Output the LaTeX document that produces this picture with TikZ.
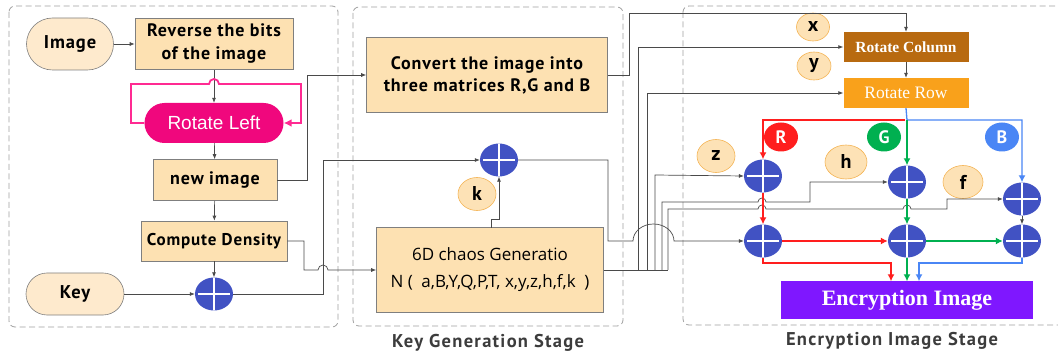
\documentclass[tikz,border=0pt]{standalone}
\usepackage{fontspec}
\setmainfont{PT Sans}
\newfontfamily\spacedsans[LetterSpace=5]{PT Sans}
\newfontfamily\widesans[LetterSpace=7]{PT Sans}
\newfontfamily\roundsans{Open Sans}
\newfontfamily\serifface{Liberation Serif}
\newfontfamily\arialface{Liberation Sans}
\usetikzlibrary{arrows.meta,shapes.geometric}
\definecolor{peach}{HTML}{FEEACD}
\definecolor{boxfill}{HTML}{FDE1B2}
\definecolor{boxedge}{HTML}{7F7F7F}
\definecolor{parfill}{HTML}{FDE2B6}
\definecolor{paredge}{HTML}{F4B455}
\definecolor{xorblue}{HTML}{4152C3}
\definecolor{rlpink}{HTML}{F0077D}
\definecolor{looppink}{HTML}{FF2A92}
\definecolor{colbrown}{HTML}{B86A10}
\definecolor{roworange}{HTML}{F9A11B}
\definecolor{encpurple}{HTML}{7F17FF}
\definecolor{chred}{HTML}{FF1E1E}
\definecolor{chgreen}{HTML}{00B050}
\definecolor{chblue}{HTML}{4A86F5}
\definecolor{lineg}{HTML}{4A4A4A}
\definecolor{stagetext}{HTML}{3C3C3C}
\begin{document}
\begin{tikzpicture}[x=1pt,y=-1pt,
  stage/.style={draw=gray!75, dashed, dash pattern=on 6pt off 3.5pt, rounded corners=6pt, line width=0.8pt},
  stagelabel/.style={text=stagetext, font=\widesans\bfseries\fontsize{18.5}{22}\selectfont},
  procbox/.style={draw=boxedge, fill=boxfill, line width=0.6pt, align=center, inner sep=0pt,
    font=\spacedsans\bfseries\fontsize{18}{23}\selectfont},
  term/.style={draw=boxedge, fill=peach, line width=0.6pt, inner sep=0pt, rounded corners=20pt,
    font=\spacedsans\bfseries\fontsize{18.5}{22}\selectfont},
  xor/.style={ellipse, fill=xorblue, minimum width=38pt, minimum height=33pt, inner sep=0pt,
    path picture={\draw[white, line width=1.6pt]
      (path picture bounding box.north) -- (path picture bounding box.south)
      ([xshift=3pt]path picture bounding box.west) -- ([xshift=-3pt]path picture bounding box.east);}},
  param/.style={ellipse, draw=paredge, fill=parfill, line width=0.6pt, minimum width=38pt,
    minimum height=33pt, inner sep=0pt, font=\bfseries\fontsize{20}{24}\selectfont},
  chan/.style={ellipse, minimum width=34pt, minimum height=29pt, inner sep=0pt, text=white,
    font=\bfseries\fontsize{18}{22}\selectfont},
  conn/.style={draw=lineg, line width=0.7pt},
  arr/.style={conn, -{Latex[length=5pt,width=4pt]}},
  carr/.style={line width=1.3pt, -{Latex[length=7pt,width=7pt]}},
]
\useasboundingbox (0,0) rectangle (1058,358);

% ---------- stage frames ----------
\draw[stage] (9,6) rectangle (338,327);
\draw[stage] (353,7) rectangle (623,326);
\begin{scope}
  \clip (0,0) rectangle (1058,358);
  \draw[stage] (683,6) rectangle (1070,325);
\end{scope}
\node[stagelabel] (klabel) at (488,343) {Key Generation Stage};
\node[stagelabel] (elabel) at (892,341) {Encryption Image Stage};

% ---------- pre-processing ----------
\node[term, minimum width=87pt, minimum height=52pt, rounded corners=26pt] (img) at (70,44) {Image};
\node[procbox, minimum width=158pt, minimum height=51pt] (rev) at (214,44) {Reverse the bits\\of the image};
\node[fill=rlpink, rounded corners=20pt, minimum width=139pt, minimum height=40pt, inner sep=0pt,
  text=white, font=\arialface\fontsize{19}{22}\selectfont] (rl) at (214,123) {Rotate Left};
\node[procbox, minimum width=124pt, minimum height=41pt] (ni) at (215,180) {new image};
\node[procbox, minimum width=146pt, minimum height=40pt, font=\spacedsans\bfseries\fontsize{17}{21}\selectfont]
  (cd) at (214,241) {Compute Density};
\node[term, minimum width=98pt, minimum height=42pt, rounded corners=21pt] (key) at (75,294) {Key};
\node[xor] (xa) at (214,294) {};

\draw[arr] (img) -- (rev);
\draw[arr] (rev) -- (rl);
\draw[arr] (rl) -- (ni);
\draw[arr] (ni) -- (cd);
\draw[arr] (cd) -- (xa);
\draw[arr] (key) -- (xa);
\draw[looppink, line width=1.8pt, -{Latex[length=8pt,width=8pt]}]
  (rl.west) -- (131,123) -- (131,84) -- (209,84)
  arc[start angle=180, end angle=360, radius=5] -- (301,84) -- (301,123) -- (rl.east);

% ---------- key generation ----------
\node[procbox, minimum width=241pt, minimum height=75pt, font=\spacedsans\bfseries\fontsize{18}{22}\selectfont]
  (conv) at (487,75) {Convert the image into\\three matrices R,G and B};
\node[xor] (xb) at (499,160) {};
\node[param] (pk) at (477,194) {k};
\node[procbox, minimum width=227pt, minimum height=85pt, font=\roundsans\fontsize{17}{27}\selectfont]
  (gen) at (490,270) {6D chaos Generatio\\N (\enspace a,B,Y,Q,P,T, x,y,z,h,f,k\enspace)};

\draw[arr] (ni.east) -- (307,180) -- (307,75) -- (conv.west);
\draw[arr] (xa.east) -- (323,294) -- (323,160) -- (xb.west);
\draw[arr] (cd.east) -- (304,241) -- (304,270) -- (318,270)
  arc[start angle=180, end angle=360, radius=5] -- (gen.west);
\draw[arr] (491,228) -- (491,219) -- (499,219) -- (xb.south);

% ---------- encryption ----------
\node[fill=colbrown, minimum width=125pt, minimum height=30pt, inner sep=0pt, text=white,
  font=\serifface\bfseries\fontsize{15.5}{18}\selectfont] (rc) at (906,47) {Rotate Column};
\node[fill=roworange, minimum width=125pt, minimum height=30pt, inner sep=0pt, text=white,
  font=\serifface\fontsize{17.5}{20}\selectfont] (rr) at (906,93) {Rotate Row};
\node[param, minimum width=33pt, minimum height=28pt] (px) at (813,27) {x};
\node[param, minimum width=34pt, minimum height=28pt] (py) at (814,66) {y};
\node[param] (pz) at (716,156) {z};
\node[param, minimum width=42pt, minimum height=34pt] (ph) at (846,162) {h};
\node[param, minimum width=40pt] (pf) at (963,182) {f};
\node[chan, fill=chred] (cr) at (781,137) {R};
\node[chan, fill=chgreen] (cg) at (884,137) {G};
\node[chan, fill=chblue] (cb) at (1002,137) {B};

\node[xor] (r1) at (763,176) {};
\node[xor] (r2) at (763,241) {};
\node[xor] (g1) at (907,182) {};
\node[xor] (g2) at (907,241) {};
\node[xor] (b1) at (1022,199) {};
\node[xor] (b2) at (1022,241) {};
\node[fill=encpurple, minimum width=252pt, minimum height=37pt, inner sep=0pt, text=white,
  font=\serifface\bfseries\fontsize{22}{26}\selectfont] (enc) at (907,300) {Encryption Image};

% feeds into the rotations
\draw[arr] (conv.east) -- (629,75) -- (629,13) -- (906,13) -- (rc.north);
\draw[arr] (rc) -- (rr);

% chaos outputs fanned out to the stages
\draw[conn] (gen.east) -- (668,270);
\draw[arr] (638,270) -- (638,47) -- (rc.west);
\draw[arr] (647,270) -- (647,93) -- (rr.west);
\draw[arr] (655,270) -- (655,175) -- (r1.west);
\draw[arr] (662,270) -- (662,202) -- (758,202)
  arc[start angle=180, end angle=360, radius=4] -- (810,202) -- (810,182) -- (g1.west);
\draw[arr] (668,270) -- (668,209) -- (758,209)
  arc[start angle=180, end angle=360, radius=4] -- (903,209)
  arc[start angle=180, end angle=360, radius=4] -- (947,209) -- (947,199) -- (b1.west);
\draw[arr] (xb.east) -- (608,160) -- (608,241) -- (633,241)
  arc[start angle=180, end angle=360, x radius=20.5, y radius=17] -- (r2.west);

% colour channels
\draw[chblue, carr] (rr.south) -- (907,120) -- (1022,120) -- (b1.north);
\draw[chred, carr] (905,120) -- (763,120) -- (r1.north);
\draw[chgreen, carr] (907,120) -- (g1.north);
\draw[chred, carr] (r1) -- (r2);
\draw[chgreen, carr] (g1) -- (g2);
\draw[arr] (b1) -- (b2);
\draw[chred, carr] (r2) -- (g2);
\draw[chgreen, carr] (g2) -- (b2);
\coordinate (rj) at (891,263);
\coordinate (bj) at (919,263);
\draw[chred, carr] (r2.south) |- (rj) -- (rj |- enc.north);
\draw[chgreen, carr] (g2.south) -- (enc.north);
\draw[chblue, carr] (b2.south) |- (bj) -- (bj |- enc.north);
\end{tikzpicture}
\end{document}
